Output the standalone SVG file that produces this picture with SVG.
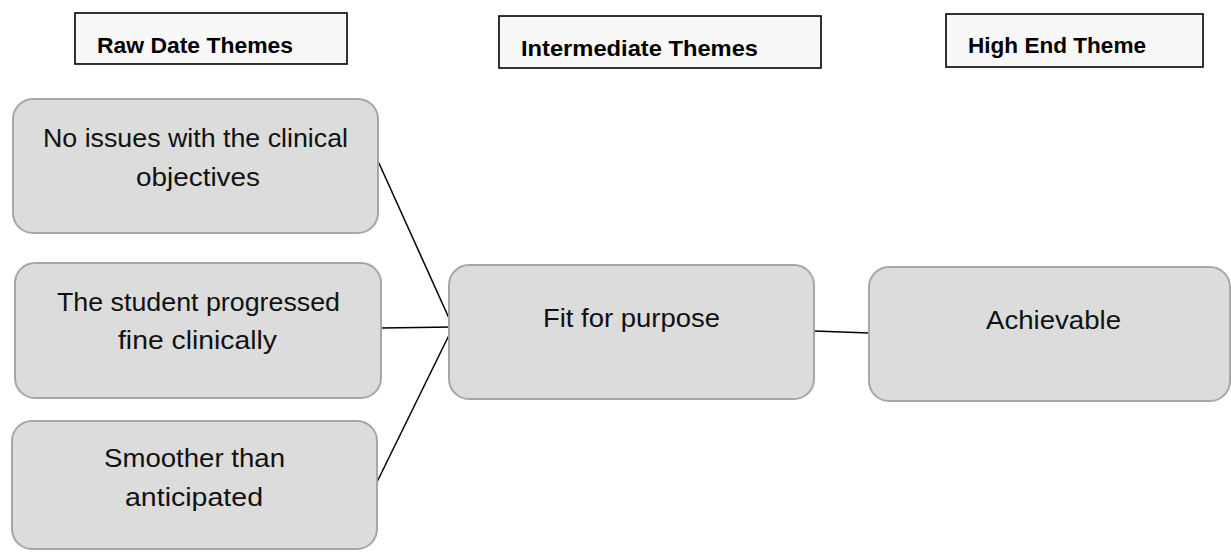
<svg xmlns="http://www.w3.org/2000/svg" width="1231" height="552" viewBox="0 0 1231 552">
<style>
.hdr{fill:#f8f8f8;stroke:#000;stroke-width:1.6}
.hdrt{font-family:"Liberation Sans",Arial,sans-serif;font-weight:bold;font-size:22px;fill:#000}
.node{fill:#dcdcdc;stroke:#a6a6a6;stroke-width:2}
.nt{font-family:"Liberation Sans",Arial,sans-serif;font-size:25.5px;fill:#111}
.conn{stroke:#000;stroke-width:1.5;fill:none}
</style>
<rect width="1231" height="552" fill="#fff"/>
<g id="header-raw">
<rect class="hdr" x="75" y="13" width="272" height="51"/>
<text class="hdrt" x="97" y="53" textLength="196" lengthAdjust="spacingAndGlyphs">Raw Date Themes</text>
</g>
<g id="header-intermediate">
<rect class="hdr" x="499" y="16" width="322" height="52"/>
<text class="hdrt" x="521" y="56" textLength="237" lengthAdjust="spacingAndGlyphs">Intermediate Themes</text>
</g>
<g id="header-high">
<rect class="hdr" x="946" y="14" width="257" height="53"/>
<text class="hdrt" x="968" y="53" textLength="178" lengthAdjust="spacingAndGlyphs">High End Theme</text>
</g>
<g id="connectors">
<line class="conn" x1="378" y1="161" x2="453" y2="327"/>
<line class="conn" x1="381" y1="328" x2="453" y2="327"/>
<line class="conn" x1="377" y1="482" x2="453" y2="327"/>
<line class="conn" x1="814" y1="331" x2="869" y2="333"/>
</g>
<g id="node-no-issues">
<rect class="node" x="13" y="99" width="365" height="134" rx="20"/>
<text class="nt" x="43" y="147" textLength="305" lengthAdjust="spacingAndGlyphs">No issues with the clinical</text>
<text class="nt" x="136" y="186" textLength="124" lengthAdjust="spacingAndGlyphs">objectives</text>
</g>
<g id="node-student">
<rect class="node" x="15" y="263" width="366" height="135" rx="20"/>
<text class="nt" x="57" y="311" textLength="283" lengthAdjust="spacingAndGlyphs">The student progressed</text>
<text class="nt" x="118" y="349" textLength="159" lengthAdjust="spacingAndGlyphs">fine clinically</text>
</g>
<g id="node-smoother">
<rect class="node" x="12" y="421" width="365" height="128" rx="20"/>
<text class="nt" x="104" y="467" textLength="181" lengthAdjust="spacingAndGlyphs">Smoother than</text>
<text class="nt" x="125" y="506" textLength="138" lengthAdjust="spacingAndGlyphs">anticipated</text>
</g>
<g id="node-fit">
<rect class="node" x="449" y="265" width="365" height="134" rx="20"/>
<text class="nt" x="543" y="327" textLength="177" lengthAdjust="spacingAndGlyphs">Fit for purpose</text>
</g>
<g id="node-achievable">
<rect class="node" x="869" y="267" width="361" height="134" rx="20"/>
<text class="nt" x="986" y="329" textLength="135" lengthAdjust="spacingAndGlyphs">Achievable</text>
</g>
</svg>
